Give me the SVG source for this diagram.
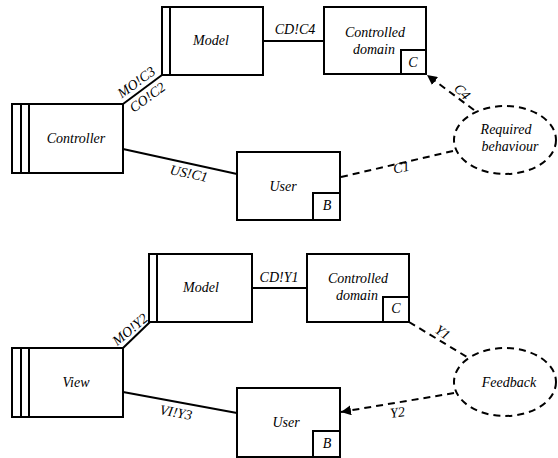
<svg xmlns="http://www.w3.org/2000/svg" width="558" height="458" viewBox="0 0 558 458" font-family="Liberation Serif, Times New Roman, DejaVu Serif, serif" font-style="italic" font-size="14">
<style>
.b{fill:#fff;stroke:#000;stroke-width:2}
.l{fill:none;stroke:#000;stroke-width:2}
.d{fill:none;stroke:#000;stroke-width:2;stroke-dasharray:7,5}
.m{text-anchor:middle;fill:#000}
</style>
<defs>
<marker id="ah" viewBox="0 0 10 10" refX="10" refY="5" markerWidth="10" markerHeight="10" markerUnits="userSpaceOnUse" orient="auto">
<path d="M0,0 L10,5 L0,10 Z" fill="#000"/>
</marker>
</defs>
<rect width="558" height="458" fill="#fff"/>
<g id="connectors">
<line class="l" x1="123" y1="104" x2="162" y2="75"/>
<line class="l" x1="123" y1="149" x2="237" y2="174"/>
<line class="l" x1="263" y1="41" x2="324" y2="41"/>
<line class="d" x1="474" y1="110" x2="427" y2="75" marker-end="url(#ah)"/>
<line class="d" x1="453" y1="151" x2="341" y2="177"/>
<line class="l" x1="123" y1="348" x2="150" y2="322"/>
<line class="l" x1="123" y1="392" x2="237" y2="413"/>
<line class="l" x1="252" y1="288" x2="307" y2="288"/>
<line class="d" x1="409" y1="322" x2="467" y2="357"/>
<line class="d" x1="454" y1="393" x2="341" y2="412" marker-end="url(#ah)"/>
<text class="m" transform="translate(139,86) rotate(-36)">MO!C3</text>
<text class="m" transform="translate(150,101) rotate(-36)">CO!C2</text>
<text class="m" transform="translate(188,178) rotate(12)">US!C1</text>
<text class="m" x="295" y="34">CD!C4</text>
<text class="m" transform="translate(459,95) rotate(45)">C4</text>
<text class="m" transform="translate(402,172) rotate(-10)">C1</text>
<text class="m" transform="translate(133,333) rotate(-40)">MO!Y2</text>
<text class="m" transform="translate(175,417) rotate(11)">VI!Y3</text>
<text class="m" x="279" y="282">CD!Y1</text>
<text class="m" transform="translate(440,336) rotate(35)">Y1</text>
<text class="m" transform="translate(398,417) rotate(-8)">Y2</text>
</g>
<g id="model1">
<rect class="b" x="162" y="7" width="101" height="68"/>
<line class="l" x1="170" y1="7" x2="170" y2="75"/>
<text class="m" x="211" y="45">Model</text>
</g>
<g id="controller">
<rect class="b" x="12" y="104" width="111" height="69"/>
<line class="l" x1="21" y1="104" x2="21" y2="173"/>
<line class="l" x1="29" y1="104" x2="29" y2="173"/>
<text class="m" x="76" y="143">Controller</text>
</g>
<g id="domain1">
<rect class="b" x="324" y="7" width="102" height="67"/>
<rect class="b" x="401" y="50" width="25" height="24"/>
<text class="m" x="375" y="37">Controlled</text>
<text class="m" x="374" y="54">domain</text>
<text class="m" x="413" y="67">C</text>
</g>
<g id="user1">
<rect class="b" x="237" y="152" width="103" height="68"/>
<rect class="b" x="313" y="193" width="27" height="27"/>
<text class="m" x="283" y="191">User</text>
<text class="m" x="327" y="210">B</text>
</g>
<g id="required">
<ellipse class="d" cx="505" cy="140" rx="51" ry="34"/>
<text class="m" x="506" y="134">Required</text>
<text class="m" x="510" y="151">behaviour</text>
</g>
<g id="model2">
<rect class="b" x="149" y="254" width="103" height="68"/>
<line class="l" x1="157" y1="254" x2="157" y2="322"/>
<text class="m" x="201" y="292">Model</text>
</g>
<g id="view">
<rect class="b" x="12" y="348" width="111" height="69"/>
<line class="l" x1="21" y1="348" x2="21" y2="417"/>
<line class="l" x1="29" y1="348" x2="29" y2="417"/>
<text class="m" x="76" y="387">View</text>
</g>
<g id="domain2">
<rect class="b" x="307" y="254" width="102" height="68"/>
<rect class="b" x="383" y="297" width="26" height="25"/>
<text class="m" x="358" y="283">Controlled</text>
<text class="m" x="357" y="300">domain</text>
<text class="m" x="396" y="313">C</text>
</g>
<g id="user2">
<rect class="b" x="237" y="388" width="103" height="69"/>
<rect class="b" x="313" y="431" width="27" height="26"/>
<text class="m" x="286" y="427">User</text>
<text class="m" x="327" y="448">B</text>
</g>
<g id="feedback">
<ellipse class="d" cx="505" cy="382" rx="51" ry="34"/>
<text class="m" x="509" y="387">Feedback</text>
</g>
</svg>
